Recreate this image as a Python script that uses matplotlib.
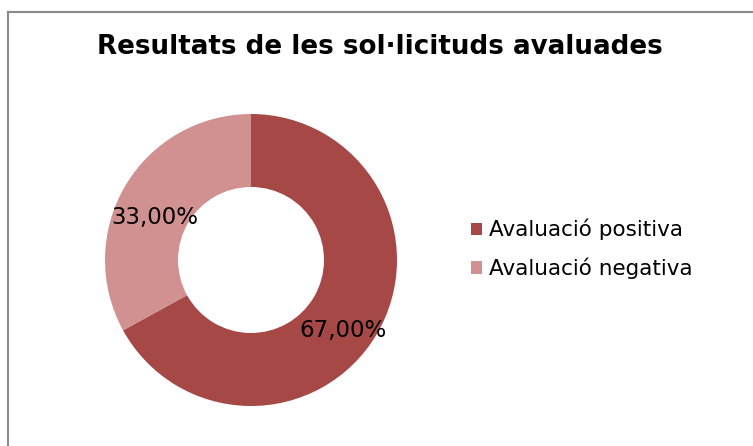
import matplotlib.pyplot as plt
from matplotlib.lines import Line2D

# data
title = 'Resultats de les sol·licituds avaluades'
labels = ['Avaluació positiva', 'Avaluació negativa']
values = [67.0, 33.0]
colors = ['#A64846', '#D09190']

W, H = 753, 446
fig = plt.figure(figsize=(W / 100, H / 100), dpi=100)

# donut, centre ~ (251, 260) px, outer radius ~146 px
cx, cy, r = 251, 260, 146
ax = fig.add_axes([(cx - r) / W, (H - cy - r) / H, 2 * r / W, 2 * r / H])
wedges, texts, autotexts = ax.pie(
    values, colors=colors, startangle=90, counterclock=False,
    radius=1.0, wedgeprops=dict(width=0.5, linewidth=0),
    autopct=lambda p: f'{p:.2f}'.replace('.', ',') + '%',
    pctdistance=0.75, textprops=dict(fontsize=16.5, color='black'))
ax.set_xlim(-1, 1)
ax.set_ylim(-1, 1)

# nudge labels to where the original puts them
autotexts[0].set_position((0.63, -0.48))
autotexts[1].set_position((-0.66, 0.29))

fig.text(380 / W, 1 - 47 / H, title, ha='center', va='center',
         fontsize=18.8, fontweight='bold')

fig.legend(wedges, labels, loc='center left',
           bbox_to_anchor=(471 / W, 1 - 249 / H), frameon=False,
           fontsize=15.5, handlelength=0.5, handleheight=0.5,
           handletextpad=0.35, labelspacing=0.8, borderpad=0,
           borderaxespad=0)

# chart-area border (gray), only top and left are in frame
fig.add_artist(Line2D([7.5 / W, 7.5 / W], [0, 1 - 12 / H], color='#898989', lw=1.5))
fig.add_artist(Line2D([7.5 / W, 1], [1 - 12 / H, 1 - 12 / H], color='#898989', lw=1.5))

fig.savefig('out.png', dpi=100)
